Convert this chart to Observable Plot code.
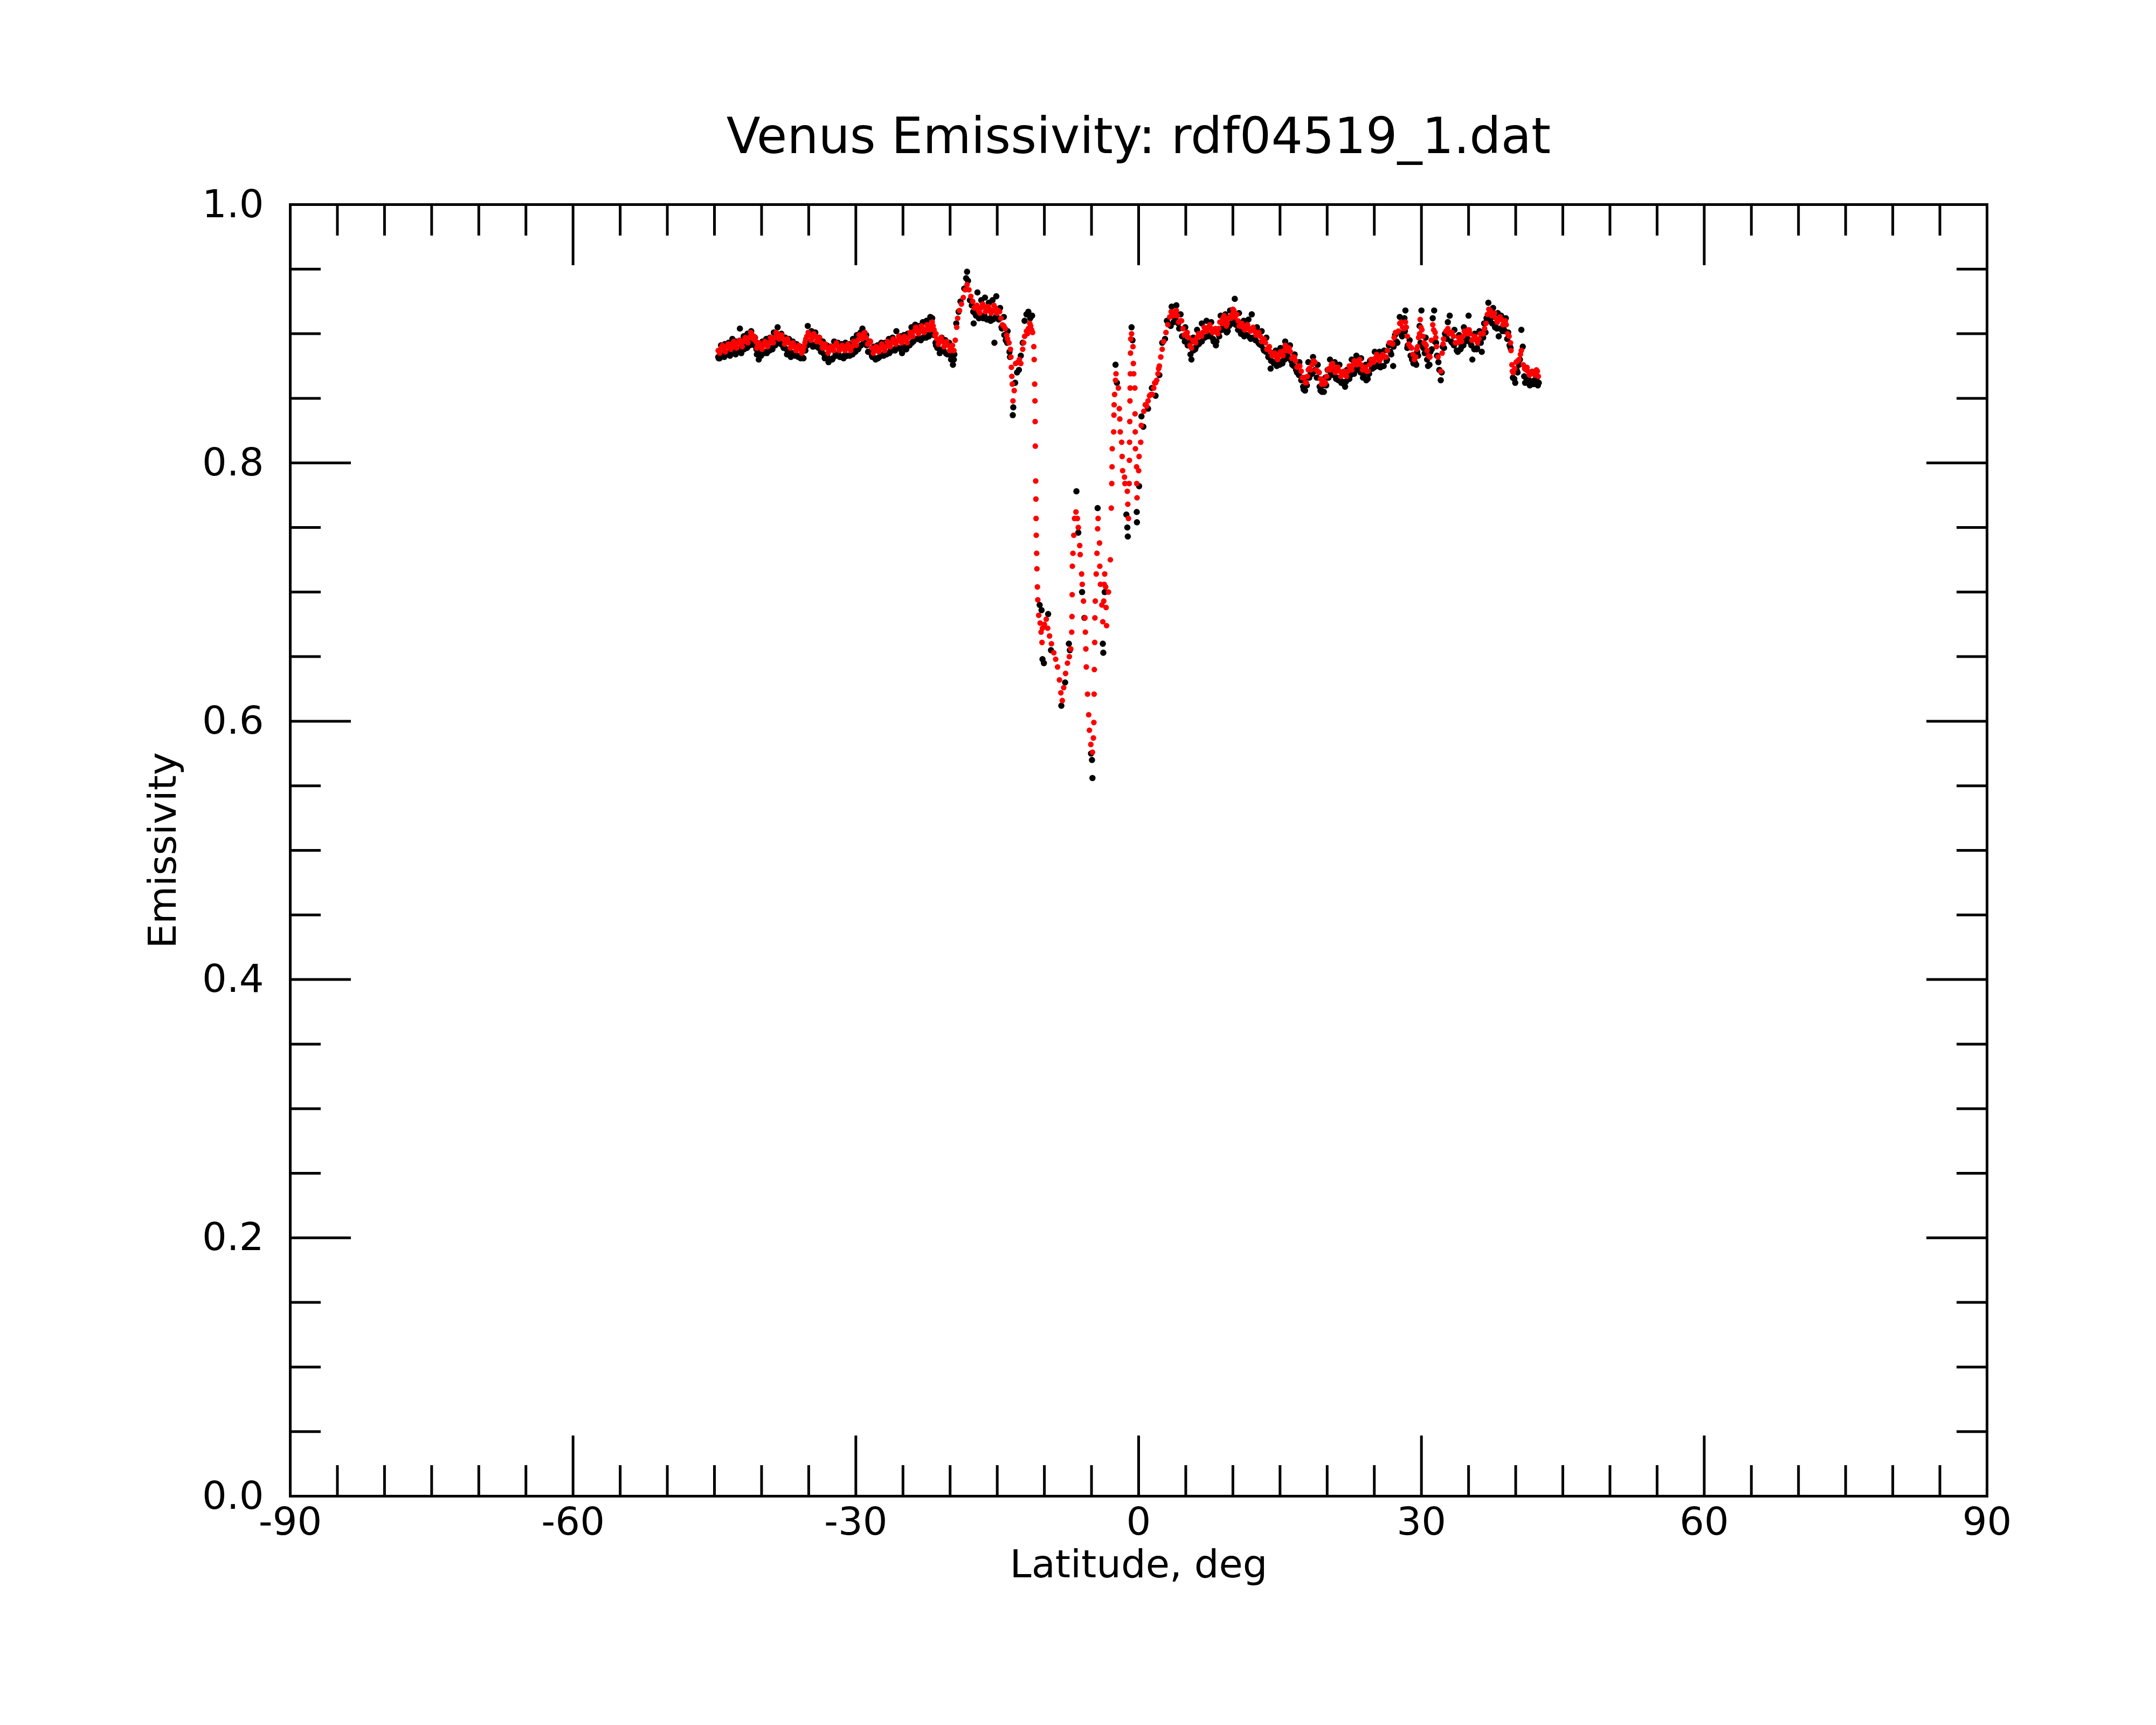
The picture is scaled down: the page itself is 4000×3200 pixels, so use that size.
<!DOCTYPE html>
<html>
<head>
<meta charset="utf-8">
<script src="https://cdn.jsdelivr.net/npm/d3@7"></script>
<script src="https://cdn.jsdelivr.net/npm/@observablehq/plot@0.6"></script>
<style>
  html, body { margin: 0; padding: 0; background: white; }
  #chart svg { display: block; }
</style>
</head>
<body>
<div id="chart"></div>
<script>
const chartTitle = "Venus Emissivity: rdf04519_1.dat";
const xLabel = "Latitude, deg";
const yLabel = "Emissivity";

const xMajor = [-90, -60, -30, 0, 30, 60, 90];
const xMajorLabels = ["-90", "-60", "-30", "0", "30", "60", "90"];
const xMinor = [-85, -80, -75, -70, -65, -55, -50, -45, -40, -35, -25, -20, -15, -10, -5,
                5, 10, 15, 20, 25, 35, 40, 45, 50, 55, 65, 70, 75, 80, 85];
const yMajor = [0, 0.2, 0.4, 0.6, 0.8, 1.0];
const yMajorLabels = ["0.0", "0.2", "0.4", "0.6", "0.8", "1.0"];
const yMinor = [0.05, 0.1, 0.15, 0.25, 0.3, 0.35, 0.45, 0.5, 0.55, 0.65, 0.7, 0.75, 0.85, 0.9, 0.95];

// raw emissivity samples (black) as [latitude, emissivity]
const rawSeries = [
[-44.6,0.882],[-44.45,0.881],[-44.3,0.891],[-44.1,0.884],[-43.9,0.892],[-43.7,0.885],[-43.5,0.893],[-43.3,0.886],
[-43.1,0.896],[-42.9,0.887],[-42.7,0.894],[-42.5,0.888],[-42.3,0.904],[-42.1,0.889],[-41.9,0.898],[-41.7,0.890],
[-41.5,0.900],[-41.3,0.893],[-41.1,0.902],[-40.9,0.893],[-40.7,0.897],[-40.5,0.884],[-40.3,0.880],[-40.1,0.885],
[-39.9,0.894],[-39.7,0.886],[-39.5,0.896],[-39.3,0.887],[-39.1,0.897],[-38.9,0.889],[-38.7,0.901],[-38.5,0.893],
[-38.3,0.905],[-38.1,0.893],[-37.9,0.900],[-37.7,0.890],[-37.5,0.897],[-37.3,0.884],[-37.1,0.896],[-36.9,0.882],
[-36.7,0.894],[-36.5,0.885],[-36.3,0.892],[-36.1,0.882],[-35.9,0.890],[-35.7,0.882],[-35.5,0.889],[-35.3,0.894],
[-35.1,0.906],[-34.9,0.893],[-34.7,0.902],[-34.5,0.891],[-34.3,0.901],[-34.1,0.890],[-33.9,0.897],[-33.7,0.886],
[-33.5,0.894],[-33.3,0.881],[-33.1,0.891],[-32.9,0.878],[-32.7,0.890],[-32.5,0.880],[-32.3,0.894],[-32.1,0.883],
[-31.9,0.893],[-31.7,0.882],[-31.5,0.892],[-31.3,0.881],[-31.1,0.893],[-30.9,0.883],[-30.7,0.892],[-30.5,0.884],
[-30.3,0.896],[-30.1,0.887],[-29.9,0.899],[-29.7,0.889],[-29.5,0.901],[-29.3,0.904],[-29.1,0.893],[-28.9,0.899],
[-28.7,0.886],[-28.5,0.894],[-28.3,0.883],[-28.1,0.890],[-27.9,0.880],[-27.7,0.891],[-27.5,0.882],[-27.3,0.893],
[-27.1,0.884],[-26.9,0.893],[-26.7,0.885],[-26.5,0.896],[-26.3,0.887],[-26.1,0.897],[-25.9,0.888],[-25.7,0.902],
[-25.5,0.889],[-25.3,0.898],[-25.1,0.885],[-24.9,0.899],[-24.7,0.888],[-24.5,0.900],[-24.3,0.891],[-24.1,0.905],
[-23.9,0.894],[-23.7,0.907],[-23.5,0.896],[-23.3,0.906],[-23.1,0.895],[-22.9,0.909],[-22.7,0.897],[-22.5,0.910],
[-22.3,0.899],[-22.1,0.913],[-21.9,0.912],[-21.7,0.900],[-21.5,0.891],[-21.3,0.889],[-21.1,0.885],[-20.9,0.897],
[-20.7,0.887],[-20.5,0.895],[-20.3,0.884],[-20.1,0.893],[-19.9,0.880],[-19.7,0.876],[-19.55,0.884],
[-19.35,0.908],[-19.1,0.917],[-18.9,0.925],[-18.5,0.935],[-18.3,0.943],[-18.2,0.948],[-18.1,0.941],[-17.9,0.926],
[-17.7,0.922],[-17.5,0.908],[-17.3,0.915],[-17.1,0.932],[-16.9,0.913],[-16.7,0.926],[-16.5,0.912],[-16.3,0.928],
[-16.1,0.911],[-15.9,0.924],[-15.7,0.910],[-15.5,0.926],[-15.3,0.893],[-15.1,0.929],[-14.9,0.912],[-14.7,0.920],
[-14.5,0.904],[-14.3,0.913],[-14.1,0.895],[-13.9,0.902],[-13.7,0.886],[-13.35,0.837],[-13.3,0.843],[-13.1,0.862],
[-12.9,0.870],[-12.7,0.872],[-12.5,0.883],[-12.3,0.893],[-12.1,0.910],[-11.9,0.915],[-11.7,0.917],[-11.5,0.912],
[-11.3,0.914],
[-10.5,0.690],[-10.3,0.686],[-10.2,0.648],[-10.05,0.645],[-9.6,0.683],[-9.3,0.655],[-8.2,0.612],[-7.8,0.630],
[-7.4,0.660],[-7.3,0.655],[-6.6,0.778],[-6.4,0.746],[-6.0,0.700],[-5.75,0.680],[-5.05,0.575],[-4.95,0.570],
[-4.9,0.556],[-4.35,0.765],[-3.8,0.660],[-3.75,0.653],[-3.6,0.700],[-2.45,0.876],[-2.3,0.862],[-1.3,0.760],
[-1.2,0.750],[-1.15,0.743],[-0.75,0.905],[-0.65,0.895],[-0.2,0.762],[-0.18,0.754],[0.05,0.782],[0.3,0.836],
[0.5,0.828],[1.0,0.842],[1.4,0.858],[1.8,0.852],[2.2,0.868],[2.5,0.893],[2.8,0.896],[3.0,0.910],[3.3,0.907],
[3.5,0.921],[3.8,0.913],[4.0,0.922],[4.2,0.908],[4.45,0.915],[4.7,0.898],[4.95,0.905],[5.2,0.892],[5.45,0.893],
[5.6,0.880],[5.8,0.897],[6.0,0.888],[6.2,0.903],[6.45,0.893],[6.7,0.908],[6.95,0.897],[7.2,0.910],[7.45,0.899],
[7.7,0.909],[7.95,0.894],[8.2,0.891],[8.45,0.900],[8.7,0.914],[8.95,0.905],[9.2,0.915],[9.45,0.902],[9.7,0.918],
[9.95,0.908],[10.2,0.927],[10.4,0.909],[10.65,0.916],[10.9,0.901],[11.15,0.910],[11.4,0.899],[11.65,0.911],
[11.9,0.896],[12.0,0.915],[12.3,0.896],[12.55,0.905],[12.8,0.892],[13.05,0.902],[13.3,0.887],[13.55,0.897],
[13.8,0.882],[14.0,0.873],[14.3,0.878],[14.55,0.887],[14.8,0.877],[15.05,0.889],[15.3,0.879],[15.55,0.894],
[15.8,0.883],[16.05,0.891],[16.3,0.876],[16.55,0.884],[16.8,0.870],[17.05,0.878],[17.3,0.864],[17.5,0.857],
[17.75,0.866],[18.0,0.878],[18.25,0.870],[18.5,0.882],[18.75,0.872],[19.0,0.876],[19.3,0.856],[19.55,0.860],
[19.8,0.866],[20.05,0.872],[20.3,0.880],[20.55,0.870],[20.8,0.878],[21.05,0.866],[21.3,0.876],[21.55,0.863],
[21.9,0.859],[22.1,0.872],[22.35,0.865],[22.6,0.880],[22.85,0.869],[23.1,0.883],[23.35,0.872],[23.6,0.881],
[23.85,0.868],[24.1,0.876],[24.3,0.865],[24.55,0.879],[24.8,0.873],[25.05,0.886],[25.3,0.876],[25.55,0.886],
[25.8,0.875],[26.05,0.887],[26.3,0.879],[26.55,0.891],[26.8,0.884],[27.0,0.875],[27.2,0.899],[27.45,0.893],
[27.7,0.913],[27.95,0.898],[28.2,0.912],[28.3,0.918],[28.5,0.889],[28.75,0.895],[29.0,0.880],[29.3,0.878],
[29.55,0.886],[29.8,0.906],[30.0,0.918],[30.2,0.889],[30.45,0.897],[30.7,0.875],[30.95,0.886],[31.2,0.912],
[31.35,0.918],[31.55,0.893],[31.8,0.878],[32.05,0.864],[32.25,0.890],[32.5,0.900],[32.8,0.909],[33.0,0.914],
[33.25,0.893],[33.5,0.903],[33.75,0.887],[34.0,0.899],[34.25,0.890],[34.5,0.905],[34.75,0.895],[35.0,0.914],
[35.2,0.893],[35.4,0.880],[35.65,0.900],[35.9,0.889],[36.15,0.902],[36.4,0.886],[36.65,0.908],[36.9,0.912],
[37.1,0.924],[37.35,0.912],[37.6,0.920],[37.85,0.906],[38.1,0.916],[38.2,0.898],[38.45,0.914],[38.7,0.904],
[38.95,0.912],[39.2,0.901],[39.45,0.889],[39.7,0.866],[39.95,0.862],[40.2,0.870],[40.45,0.880],[40.6,0.903],
[40.75,0.890],[41.0,0.862],[41.25,0.866],[41.5,0.860],[41.75,0.862],[42.0,0.864],[42.25,0.866],[42.45,0.862],
// further raw samples along the lower edge of the band
[-44.55,0.881],[-44.25,0.883],[-43.95,0.882],[-43.65,0.884],[-43.35,0.883],[-43.05,0.886],[-42.75,0.884],[-42.45,0.887],
[-42.15,0.885],[-41.85,0.888],[-41.55,0.889],[-41.25,0.891],[-40.95,0.892],[-40.75,0.891],[-40.55,0.888],[-40.35,0.884],
[-40.05,0.883],[-39.75,0.885],[-39.45,0.885],[-39.15,0.887],[-38.85,0.888],[-38.55,0.891],[-38.25,0.893],[-37.95,0.892],
[-37.65,0.889],[-37.35,0.888],[-37.05,0.886],[-36.75,0.885],[-36.45,0.883],[-36.15,0.883],[-35.85,0.881],[-35.55,0.881],
[-35.35,0.887],[-35.15,0.891],[-34.85,0.893],[-34.55,0.890],[-34.25,0.892],[-33.95,0.889],[-33.65,0.887],[-33.35,0.884],
[-33.05,0.883],[-32.75,0.880],[-32.45,0.881],[-32.15,0.884],[-31.85,0.884],[-31.55,0.882],[-31.25,0.883],[-30.95,0.883],
[-30.65,0.883],[-30.35,0.884],[-30.05,0.886],[-29.75,0.888],[-29.45,0.891],[-29.15,0.893],[-28.85,0.891],[-28.55,0.886],
[-28.25,0.882],[-27.95,0.881],[-27.65,0.881],[-27.35,0.883],[-27.05,0.883],[-26.75,0.884],[-26.45,0.885],[-26.15,0.887],
[-25.85,0.887],[-25.55,0.889],[-25.25,0.888],[-24.95,0.890],[-24.65,0.888],[-24.35,0.891],[-24.05,0.893],[-23.75,0.896],
[-23.45,0.896],[-23.15,0.896],[-22.85,0.897],[-22.55,0.897],[-22.25,0.898],[-21.95,0.901],[-21.75,0.899],[-21.55,0.893],
[-21.35,0.889],[-21.05,0.887],[-20.75,0.888],[-20.45,0.885],[-20.15,0.885],[-19.85,0.882],[-19.6,0.880],
[-17.55,0.917],[-17.25,0.914],[-16.95,0.912],[-16.65,0.913],[-16.35,0.914],[-16.05,0.911],[-15.75,0.912],[-15.45,0.911],
[-15.15,0.913],[-14.85,0.911],[-14.55,0.905],[-14.25,0.899],[-13.95,0.893],[-13.65,0.882],
[3.4,0.906],[3.7,0.909],[4.0,0.910],[4.3,0.904],[4.6,0.898],[4.9,0.894],[5.2,0.891],[5.5,0.884],[5.8,0.887],[6.1,0.890],
[6.4,0.892],[6.7,0.894],[7.0,0.897],[7.3,0.898],[7.6,0.898],[7.9,0.896],[8.25,0.894],[8.55,0.898],[8.85,0.903],[9.1,0.904],
[9.35,0.901],[9.6,0.906],[9.85,0.908],[10.05,0.911],[10.3,0.907],[10.55,0.903],[10.85,0.900],[11.2,0.898],[11.5,0.899],
[11.8,0.897],[12.1,0.897],[12.4,0.895],[12.7,0.893],[13.0,0.891],[13.25,0.888],[13.5,0.886],[13.75,0.882],[14.05,0.879],
[14.35,0.877],[14.65,0.875],[14.95,0.876],[15.25,0.877],[15.5,0.880],[15.7,0.883],[15.95,0.881],[16.2,0.879],[16.45,0.875],
[16.7,0.872],[17.0,0.868],[17.25,0.864],[17.45,0.859],[17.65,0.856],[17.85,0.860],[18.1,0.866],[18.4,0.869],[18.65,0.871],
[18.9,0.866],[19.2,0.859],[19.45,0.855],[19.65,0.855],[19.9,0.860],[20.15,0.866],[20.4,0.869],[20.65,0.868],[20.95,0.865],
[21.2,0.864],[21.5,0.862],[21.8,0.861],[22.0,0.863],[22.3,0.866],[22.5,0.868],[22.8,0.870],[23.05,0.872],[23.25,0.873],
[23.55,0.870],[23.8,0.866],[24.15,0.864],[24.45,0.869],[24.75,0.873],[25.0,0.874],[25.35,0.875],[25.65,0.874],[26.0,0.875],
[26.35,0.880],[26.7,0.886],[27.05,0.890],[27.35,0.894],[27.65,0.901],[27.9,0.899],[28.25,0.902],[28.55,0.891],[28.85,0.883],
[29.15,0.877],[29.45,0.876],[29.65,0.883],[29.9,0.893],[30.1,0.891],[30.35,0.885],[30.6,0.880],[30.85,0.876],[31.1,0.888],
[31.4,0.894],[31.65,0.883],[31.9,0.872],[32.15,0.870],[32.4,0.889],[32.7,0.896],[33.15,0.894],[33.45,0.891],[33.85,0.886],
[34.15,0.888],[34.45,0.891],[34.65,0.894],[34.9,0.896],[35.3,0.891],[35.6,0.888],[35.85,0.888],[36.3,0.893],[36.55,0.897],
[36.8,0.901],[37.2,0.910],[37.5,0.908],[37.8,0.905],[38.0,0.904],[38.35,0.904],[38.6,0.902],[38.85,0.902],[39.1,0.896],
[39.35,0.891],[39.85,0.865],[40.1,0.872],[40.35,0.876],[40.9,0.867],[41.15,0.865],[41.4,0.864],[41.65,0.863],[41.9,0.861],
[42.15,0.865],[42.35,0.860]
];

// smoothed emissivity (red) as [latitude, emissivity]
const smoothSeries = [
[-44.6,0.887],[-44.3,0.889],[-44.0,0.888],[-43.7,0.890],[-43.4,0.889],[-43.1,0.892],[-42.8,0.890],[-42.5,0.893],
[-42.2,0.892],[-41.9,0.894],[-41.6,0.895],[-41.3,0.897],[-41.0,0.899],[-40.8,0.898],[-40.6,0.894],[-40.4,0.891],
[-40.1,0.890],[-39.8,0.891],[-39.5,0.892],[-39.2,0.893],[-38.9,0.895],[-38.6,0.897],[-38.3,0.900],[-38.0,0.898],
[-37.7,0.896],[-37.4,0.894],[-37.1,0.893],[-36.8,0.891],[-36.5,0.890],[-36.2,0.889],[-35.9,0.888],[-35.6,0.887],
[-35.4,0.893],[-35.2,0.898],[-34.9,0.899],[-34.6,0.897],[-34.3,0.898],[-34.0,0.896],[-33.7,0.893],[-33.4,0.891],
[-33.1,0.889],[-32.8,0.887],[-32.5,0.888],[-32.2,0.891],[-31.9,0.890],[-31.6,0.889],[-31.3,0.889],[-31.0,0.890],
[-30.7,0.889],[-30.4,0.890],[-30.1,0.893],[-29.8,0.895],[-29.5,0.898],[-29.2,0.900],[-28.9,0.897],[-28.6,0.893],
[-28.3,0.889],[-28.0,0.887],[-27.7,0.888],[-27.4,0.889],[-27.1,0.890],[-26.8,0.890],[-26.5,0.892],[-26.2,0.893],
[-25.9,0.894],[-25.6,0.895],[-25.3,0.895],[-25.0,0.896],[-24.7,0.895],[-24.4,0.897],[-24.1,0.900],[-23.8,0.902],
[-23.5,0.903],[-23.2,0.902],[-22.9,0.904],[-22.6,0.903],[-22.3,0.905],[-22.0,0.907],[-21.8,0.906],[-21.6,0.899],
[-21.4,0.896],[-21.1,0.894],[-20.8,0.894],[-20.5,0.892],[-20.2,0.891],[-19.9,0.889],[-19.6,0.887],[-19.45,0.895],
[-19.3,0.905],[-19.2,0.912],[-19.0,0.918],[-18.8,0.923],[-18.6,0.928],[-18.4,0.934],[-18.2,0.938],[-18.0,0.934],
[-17.8,0.929],[-17.6,0.925],[-17.3,0.921],[-17.0,0.918],[-16.7,0.920],[-16.4,0.921],[-16.1,0.918],[-15.8,0.919],
[-15.5,0.918],[-15.2,0.920],[-14.9,0.918],[-14.6,0.912],[-14.3,0.906],[-14.0,0.899],[-13.75,0.893],[-13.6,0.888],
[-13.55,0.882],[-13.5,0.874],[-13.45,0.867],[-13.4,0.861],[-13.33,0.848],[-13.2,0.856],[-13.05,0.877],[-12.8,0.878],
[-12.5,0.877],[-12.3,0.888],[-12.1,0.898],[-11.9,0.902],[-11.7,0.904],[-11.45,0.906],[-11.25,0.901],[-11.12,0.890],
[-11.08,0.880],[-11.03,0.861],[-11.0,0.848],[-10.98,0.832],[-10.96,0.813],[-10.92,0.786],[-10.9,0.772],[-10.88,0.757],
[-10.86,0.744],[-10.82,0.730],[-10.79,0.718],[-10.74,0.704],[-10.7,0.694],[-10.6,0.682],[-10.45,0.676],[-10.35,0.669],
[-10.25,0.661],[-10.2,0.672],[-10.0,0.675],[-9.8,0.679],[-9.65,0.672],[-9.45,0.666],[-9.25,0.660],[-9.0,0.653],
[-8.8,0.648],[-8.6,0.642],[-8.4,0.632],[-8.25,0.622],[-8.1,0.616],[-7.95,0.626],[-7.75,0.637],[-7.55,0.645],
[-7.35,0.650],[-7.2,0.656],[-7.1,0.669],[-7.07,0.681],[-7.05,0.698],[-7.03,0.720],[-6.97,0.730],[-6.88,0.744],
[-6.8,0.757],[-6.65,0.762],[-6.5,0.757],[-6.4,0.750],[-6.25,0.736],[-6.2,0.729],[-6.05,0.714],[-5.98,0.706],
[-5.85,0.693],[-5.7,0.680],[-5.65,0.669],[-5.6,0.656],[-5.55,0.642],[-5.42,0.621],[-5.3,0.605],[-5.22,0.593],
[-5.07,0.582],[-4.9,0.576],[-4.8,0.587],[-4.75,0.599],[-4.72,0.621],[-4.7,0.640],[-4.66,0.661],[-4.64,0.680],
[-4.6,0.693],[-4.5,0.714],[-4.42,0.730],[-4.35,0.749],[-4.3,0.757],[-4.15,0.738],[-4.12,0.720],[-4.05,0.706],
[-3.9,0.690],[-3.8,0.677],[-3.7,0.693],[-3.65,0.706],[-3.6,0.714],[-3.5,0.704],[-3.45,0.688],[-3.4,0.674],
[-3.2,0.700],[-3.0,0.725],[-2.9,0.765],[-2.85,0.784],[-2.82,0.797],[-2.8,0.811],[-2.65,0.824],[-2.62,0.837],
[-2.6,0.845],[-2.55,0.853],[-2.45,0.864],[-2.4,0.869],[-2.15,0.858],[-2.05,0.842],[-2.0,0.834],[-1.95,0.824],
[-1.8,0.816],[-1.75,0.805],[-1.7,0.794],[-1.5,0.789],[-1.45,0.784],[-1.2,0.778],[-1.15,0.768],[-1.08,0.757],
[-1.0,0.784],[-0.98,0.802],[-0.96,0.816],[-0.94,0.832],[-0.92,0.848],[-0.9,0.858],[-0.88,0.869],[-0.86,0.885],
[-0.84,0.896],[-0.75,0.900],[-0.6,0.890],[-0.56,0.877],[-0.52,0.869],[-0.4,0.858],[-0.38,0.838],[-0.36,0.824],
[-0.34,0.811],[-0.22,0.797],[-0.2,0.784],[-0.17,0.773],[0.0,0.794],[0.05,0.805],[0.22,0.816],[0.28,0.829],
[0.55,0.840],[0.7,0.845],[1.0,0.848],[1.3,0.853],[1.6,0.858],[1.8,0.862],[2.05,0.869],[2.2,0.875],[2.35,0.882],
[2.5,0.888],[2.65,0.894],[2.9,0.901],[3.1,0.907],[3.3,0.913],[3.55,0.916],[3.85,0.917],[4.1,0.914],[4.4,0.910],
[4.7,0.904],[5.0,0.900],[5.3,0.897],[5.6,0.889],[5.9,0.894],[6.2,0.897],[6.5,0.899],[6.8,0.901],[7.1,0.904],
[7.4,0.905],[7.7,0.904],[8.0,0.903],[8.3,0.901],[8.5,0.904],[8.75,0.909],[8.95,0.912],[9.2,0.910],[9.4,0.908],
[9.7,0.913],[9.9,0.915],[10.1,0.918],[10.3,0.914],[10.55,0.910],[10.8,0.907],[11.1,0.905],[11.4,0.906],[11.7,0.904],
[12.0,0.904],[12.3,0.902],[12.6,0.900],[12.9,0.898],[13.2,0.895],[13.45,0.893],[13.75,0.889],[14.0,0.886],
[14.3,0.884],[14.6,0.882],[14.9,0.883],[15.2,0.884],[15.45,0.887],[15.65,0.890],[15.85,0.888],[16.1,0.886],
[16.4,0.882],[16.65,0.879],[16.95,0.875],[17.25,0.871],[17.45,0.866],[17.7,0.862],[17.9,0.867],[18.1,0.873],
[18.4,0.876],[18.7,0.878],[19.0,0.871],[19.3,0.865],[19.5,0.862],[19.7,0.861],[19.95,0.867],[20.2,0.873],
[20.45,0.876],[20.7,0.874],[21.0,0.872],[21.3,0.871],[21.6,0.869],[21.9,0.868],[22.2,0.871],[22.5,0.874],
[22.75,0.876],[23.0,0.878],[23.3,0.879],[23.6,0.876],[23.9,0.873],[24.2,0.871],[24.5,0.876],[24.8,0.880],
[25.1,0.881],[25.4,0.882],[25.7,0.881],[26.1,0.882],[26.4,0.887],[26.8,0.893],[27.1,0.897],[27.4,0.901],
[27.7,0.908],[28.0,0.905],[28.3,0.909],[28.5,0.898],[28.8,0.890],[29.1,0.884],[29.4,0.882],[29.6,0.890],
[29.8,0.900],[29.87,0.911],[29.95,0.905],[30.16,0.898],[30.4,0.892],[30.6,0.887],[30.9,0.882],[31.05,0.895],
[31.2,0.907],[31.45,0.901],[31.6,0.890],[31.76,0.882],[32.05,0.871],[32.2,0.885],[32.35,0.896],[32.8,0.904],
[33.1,0.901],[33.4,0.898],[33.8,0.893],[34.1,0.895],[34.4,0.898],[34.7,0.901],[34.95,0.903],[35.2,0.900],
[35.5,0.896],[35.8,0.895],[36.1,0.896],[36.4,0.900],[36.7,0.904],[37.0,0.915],[37.3,0.918],[37.6,0.915],
[37.9,0.912],[38.2,0.911],[38.5,0.911],[38.8,0.909],[39.0,0.907],[39.3,0.898],[39.45,0.893],[39.5,0.887],
[39.6,0.876],[39.65,0.871],[39.9,0.873],[40.2,0.879],[40.5,0.884],[40.6,0.887],[40.8,0.876],[41.1,0.872],
[41.3,0.871],[41.6,0.870],[41.9,0.869],[42.2,0.872],[42.4,0.867],
// in-between smoothed samples
[-44.45,0.885],[-44.15,0.891],[-43.85,0.886],[-43.55,0.892],[-43.25,0.888],[-42.95,0.894],[-42.65,0.889],[-42.35,0.895],
[-42.05,0.890],[-41.75,0.897],[-41.45,0.893],[-41.15,0.901],[-40.9,0.896],[-40.7,0.897],[-40.5,0.889],[-40.25,0.893],
[-39.95,0.888],[-39.65,0.894],[-39.35,0.890],[-39.05,0.897],[-38.75,0.893],[-38.45,0.901],[-38.15,0.896],[-37.85,0.899],
[-37.55,0.892],[-37.25,0.896],[-36.95,0.889],[-36.65,0.893],[-36.35,0.887],[-36.05,0.891],[-35.75,0.885],[-35.5,0.890],
[-35.3,0.896],[-35.05,0.901],[-34.75,0.895],[-34.45,0.900],[-34.15,0.894],[-33.85,0.897],[-33.55,0.889],[-33.25,0.892],
[-32.95,0.885],[-32.65,0.890],[-32.35,0.887],[-32.05,0.893],[-31.75,0.887],[-31.45,0.891],[-31.15,0.887],[-30.85,0.892],
[-30.55,0.887],[-30.25,0.894],[-29.95,0.891],[-29.65,0.899],[-29.35,0.896],[-29.05,0.901],[-28.75,0.892],[-28.45,0.894],
[-28.15,0.885],[-27.85,0.890],[-27.55,0.886],[-27.25,0.892],[-26.95,0.887],[-26.65,0.894],[-26.35,0.890],[-26.05,0.896],
[-25.75,0.892],[-25.45,0.898],[-25.15,0.893],[-24.85,0.898],[-24.55,0.893],[-24.25,0.901],[-23.95,0.898],[-23.65,0.905],
[-23.35,0.900],[-23.05,0.906],[-22.75,0.901],[-22.45,0.907],[-22.15,0.903],[-21.9,0.909],[-21.7,0.903],[-21.5,0.900],
[-21.25,0.892],[-20.95,0.897],[-20.65,0.890],[-20.35,0.894],[-20.05,0.887],[-19.75,0.891],
[-17.45,0.920],[-17.15,0.922],[-16.85,0.916],[-16.55,0.923],[-16.25,0.917],[-15.95,0.921],[-15.65,0.916],[-15.35,0.922],
[-15.05,0.916],[-14.75,0.917],[-14.45,0.907],[-14.15,0.904],[-13.9,0.896],[-12.65,0.880],[-12.2,0.893],[-11.8,0.900],
[-11.55,0.908],[-11.35,0.903],
[0.85,0.844],[1.15,0.852],[1.45,0.853],[1.7,0.862],[1.92,0.864],[2.12,0.873],
[3.45,0.917],[3.7,0.914],[4.0,0.918],[4.25,0.909],[4.55,0.910],[4.85,0.899],[5.15,0.901],[5.45,0.891],[5.75,0.895],
[6.05,0.893],[6.35,0.900],[6.65,0.898],[6.95,0.905],[7.25,0.902],[7.55,0.907],[7.85,0.901],[8.15,0.904],[8.4,0.900],
[8.62,0.909],[8.85,0.908],[9.07,0.914],[9.3,0.906],[9.55,0.912],[9.8,0.912],[10.0,0.919],[10.2,0.913],[10.42,0.915],
[10.67,0.906],[10.95,0.908],[11.25,0.903],[11.55,0.907],[11.85,0.902],[12.15,0.905],[12.45,0.899],[12.75,0.901],
[13.05,0.894],[13.32,0.896],[13.6,0.888],[13.87,0.890],[14.15,0.883],[14.45,0.885],[14.75,0.880],[15.05,0.886],
[15.32,0.883],[15.55,0.891],[15.75,0.887],[15.97,0.889],[16.25,0.881],[16.52,0.882],[16.8,0.874],[17.1,0.875],
[17.35,0.866],[17.57,0.866],[17.8,0.862],[18.0,0.872],[18.25,0.872],[18.55,0.879],[18.85,0.872],[19.15,0.870],
[19.4,0.861],[19.6,0.864],[19.82,0.862],[20.07,0.872],[20.32,0.872],[20.57,0.877],[20.85,0.870],[21.15,0.874],
[21.45,0.867],[21.75,0.871],[22.05,0.867],[22.35,0.875],[22.62,0.872],[22.87,0.879],[23.15,0.876],[23.45,0.880],
[23.75,0.872],[24.05,0.874],[24.35,0.871],[24.65,0.880],[24.95,0.878],[25.25,0.884],[25.55,0.879],[25.9,0.884],
[26.25,0.882],[26.6,0.893],[26.95,0.892],[27.25,0.901],[27.55,0.902],[27.85,0.909],[28.15,0.904],[28.4,0.905],
[28.65,0.892],[28.95,0.889],[29.25,0.880],[29.5,0.888],[29.7,0.897],[30.05,0.903],[30.28,0.893],[30.5,0.891],
[30.75,0.883],[31.3,0.903],[31.52,0.897],[32.3,0.892],[32.6,0.902],[32.95,0.900],[33.25,0.901],[33.6,0.893],
[33.95,0.897],[34.25,0.894],[34.55,0.902],[34.82,0.900],[35.07,0.903],[35.35,0.895],[35.65,0.898],[35.95,0.893],
[36.25,0.900],[36.55,0.900],[36.85,0.908],[37.15,0.919],[37.45,0.914],[37.75,0.916],[38.05,0.909],[38.35,0.913],
[38.65,0.907],[38.9,0.910],[39.15,0.900],[39.75,0.870],[40.05,0.878],[40.35,0.880],[40.95,0.873],[41.2,0.874],
[41.45,0.868],[41.75,0.871],[42.05,0.868],[42.3,0.871]
];

const xLabelMap = new Map(xMajor.map((v, i) => [v, xMajorLabels[i]]));
const yLabelMap = new Map(yMajor.map((v, i) => [v, yMajorLabels[i]]));

const FONT = "DejaVu Sans";
const SW = 5;

const chart = Plot.plot({
  width: 4000,
  height: 3200,
  marginLeft: 538,
  marginRight: 314,
  marginTop: 379,
  marginBottom: 425,
  style: { fontFamily: FONT, background: "white", color: "black", overflow: "visible" },
  x: { domain: [-90, 90], axis: null },
  y: { domain: [0, 1], axis: null },
  marks: [
    Plot.frame({ stroke: "black", strokeWidth: SW }),
    // inward major & minor ticks on all four sides
    Plot.axisX(xMajor, { anchor: "bottom", tickSize: -112, strokeWidth: SW, fill: "none", label: null }),
    Plot.axisX(xMinor, { anchor: "bottom", tickSize: -57, strokeWidth: SW, fill: "none", label: null }),
    Plot.axisX(xMajor, { anchor: "top", tickSize: -112, strokeWidth: SW, fill: "none", label: null }),
    Plot.axisX(xMinor, { anchor: "top", tickSize: -57, strokeWidth: SW, fill: "none", label: null }),
    Plot.axisY(yMajor, { anchor: "left", tickSize: -113, strokeWidth: SW, fill: "none", label: null }),
    Plot.axisY(yMinor, { anchor: "left", tickSize: -57, strokeWidth: SW, fill: "none", label: null }),
    Plot.axisY(yMajor, { anchor: "right", tickSize: -113, strokeWidth: SW, fill: "none", label: null }),
    Plot.axisY(yMinor, { anchor: "right", tickSize: -57, strokeWidth: SW, fill: "none", label: null }),
    // tick labels
    Plot.axisX(xMajor, { anchor: "bottom", tickSize: 0, tickPadding: 20, fontSize: 72,
      tickFormat: d => xLabelMap.get(d), label: null }),
    Plot.axisY(yMajor, { anchor: "left", tickSize: 0, tickPadding: 49, fontSize: 72,
      tickFormat: d => yLabelMap.get(d), label: null }),
    // data
    Plot.dot(rawSeries, { x: d => d[0], y: d => d[1], r: 5.8, fill: "black", stroke: "none" }),
    Plot.dot(smoothSeries, { x: d => d[0], y: d => d[1], r: 5.2, fill: "#ff0000", stroke: "none" }),
    // titles
    Plot.text([chartTitle], { frameAnchor: "top", dy: -161, fontSize: 92, text: d => d, fill: "black" }),
    Plot.text([xLabel], { frameAnchor: "bottom", dy: 150, fontSize: 72, text: d => d, fill: "black" }),
    Plot.text([yLabel], { frameAnchor: "left", dx: -236, rotate: -90, textAnchor: "middle",
      fontSize: 72, text: d => d, fill: "black" })
  ]
});
document.getElementById("chart").appendChild(chart);
</script>
</body>
</html>
